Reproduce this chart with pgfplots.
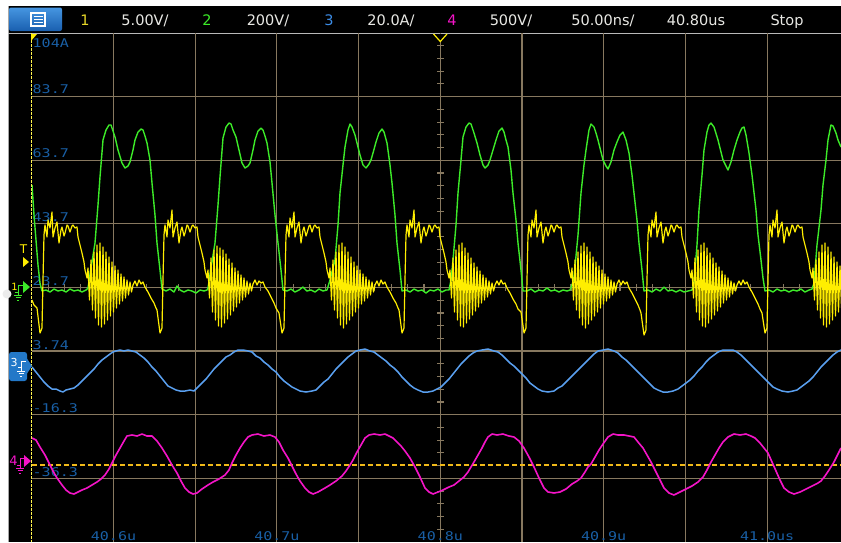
\documentclass[border=0pt]{standalone}
\usepackage{fontspec}
\setmainfont{DejaVu Sans}
\newfontfamily\scopemono[FakeStretch=1.25]{DejaVu Sans Mono}
\usepackage{pgfplots}
\pgfplotsset{compat=1.18}
\definecolor{gridtan}{RGB}{135,120,95}
\definecolor{lblblue}{RGB}{25,95,165}
\definecolor{chyellow}{RGB}{255,238,0}
\definecolor{hdryellow}{RGB}{230,215,40}
\definecolor{chgreen}{RGB}{60,235,40}
\definecolor{chblue}{RGB}{90,160,240}
\definecolor{hdrblue}{RGB}{60,140,230}
\definecolor{chmag}{RGB}{245,20,200}
\definecolor{trigor}{RGB}{240,185,25}
\definecolor{btnlight}{RGB}{70,150,225}
\definecolor{btndark}{RGB}{25,95,175}
\definecolor{boxblue}{RGB}{35,120,200}
\definecolor{hdrtext}{RGB}{232,232,228}
\begin{document}
\begin{tikzpicture}
\begin{scope}[x=1pt,y=-1pt]
\fill[white] (0,0) rectangle (841,542);
\fill[black] (8,6) rectangle (841,542);
\draw[gray!70, line width=0.8pt] (8,6) -- (8,542);
% header
\shade[top color=btnlight, bottom color=btndark, rounded corners=2pt] (9,7.5) rectangle (62,31);
\draw[white, line width=1.1pt] (31,13) rectangle (45,26);
\foreach \yy in {16.5,19.5,22.5} \draw[white, line width=0.9pt] (33.5,\yy) -- (42.5,\yy);
\begin{scope}[every node/.style={anchor=base, inner sep=0pt, font=\fontsize{14.5}{15}\selectfont}]
\node[text=hdryellow] at (85,25) {1};
\node[text=hdrtext] at (145,25) {5.00V/};
\node[text=chgreen] at (207,25) {2};
\node[text=hdrtext] at (268,25) {200V/};
\node[text=hdrblue] at (329,25) {3};
\node[text=hdrtext] at (391,25) {20.0A/};
\node[text=chmag] at (452,25) {4};
\node[text=hdrtext] at (511,25) {500V/};
\node[text=hdrtext] at (603,25) {50.00ns/};
\node[text=hdrtext] at (696,25) {40.80us};
\node[text=hdrtext] at (787,25) {Stop};
\end{scope}
\draw[gray!55, line width=1pt] (8,33) -- (841,33);
% center minor ticks
\foreach \k in {1,...,39} \draw[gridtan, line width=1.1pt] (437,{33+12.725*\k}) -- (443.6,{33+12.725*\k});
\foreach \k in {1,...,49} \draw[gridtan, line width=1.1pt] ({31.8+16.34*\k},284.2) -- ({31.8+16.34*\k},290.6);
\end{scope}

\begin{axis}[at={(31.8pt,-542pt)}, anchor=south west, scale only axis,
  width=809.2pt, height=509pt,
  xmin=31.8, xmax=841, ymin=33, ymax=542, y dir=reverse,
  axis line style={draw=none},
  xtick={113.5,195.2,276.9,358.6,440.3,522,603.7,685.4,767.1},
  ytick={96.6,160.2,223.8,287.4,351,414.6,478.2},
  xticklabels={}, yticklabels={}, scaled ticks=false, major tick length=0pt,
  grid=major, major grid style={draw=gridtan, line width=1.1pt},
  clip=true]
% channel 3 scale labels
\begin{scope}[every node/.style={anchor=base west, inner sep=0pt, text=lblblue, font=\scopemono\fontsize{12}{12}\selectfont}]
\node at (axis cs:32.5,47) {104A};
\node at (axis cs:32.5,93) {83.7};
\node at (axis cs:32.5,157) {63.7};
\node at (axis cs:32.5,221) {43.7};
\node at (axis cs:32.5,285) {23.7};
\node at (axis cs:32.5,349) {3.74};
\node at (axis cs:32.5,412) {-16.3};
\node at (axis cs:32.5,476) {-36.3};
\end{scope}
\begin{scope}[every node/.style={anchor=base, inner sep=0pt, text=lblblue, font=\scopemono\fontsize{12}{12}\selectfont}]
\node at (axis cs:113.5,540) {40.6u};
\node at (axis cs:276.9,540) {40.7u};
\node at (axis cs:440.3,540) {40.8u};
\node at (axis cs:603.7,540) {40.9u};
\node at (axis cs:767.1,540) {41.0us};
\end{scope}
\draw[trigor, line width=1.5pt, dash pattern=on 5pt off 3pt] (axis cs:31.8,465) -- (axis cs:841,465);

% channel 2 (green)
\addplot[chgreen, line width=1.4pt, line join=round] coordinates {
(32,185) (34,215) (36,240) (38,265) (40,283) (42,291) (46,290) (50,292) (54,289) (58,291) (62,290) (66,292) (70,289) (74,291) (78,290) (82,292) (86,290)
(88,288) (91,268) (95,243) (98,205) (100,177) (103,140) (106,130) (109,125) (111,125) (113,131) (115,137) (118,150) (122,163) (125,168) (128,166) (130,162) (133,150) (135,140) (138,132) (141,129) (143,130) (145,136) (147,143) (150,160) (152,183) (155,215) (157,243) (160,270) (162,289)
(166,291) (170,289) (174,292) (177,286) (180,290) (184,292) (188,290) (192,291) (196,293) (200,290) (204,291) (207,290)
(208,288) (211,268) (215,243) (218,205) (220,177) (223,138) (226,127) (229,123) (231,124) (233,130) (236,137) (239,150) (242,163) (245,168) (248,166) (250,163) (253,150) (255,140) (258,131) (261,128) (263,130) (265,136) (267,143) (270,162) (272,183) (275,215) (278,243) (281,270) (283,290)
(287,291) (291,289) (295,292) (299,290) (303,287) (307,291) (311,290) (315,292) (319,289) (323,291) (327,290)
(330,280) (335,260) (338,225) (340,193) (343,165) (345,147) (348,130) (350,124) (352,127) (355,135) (357,143) (360,155) (363,165) (366,168) (369,164) (371,160) (373,153) (376,142) (379,133) (382,129) (384,132) (387,143) (390,165) (392,183) (395,215) (397,243) (400,270) (402,291)
(406,290) (410,292) (414,289) (418,291) (422,290) (426,293) (430,290) (434,291) (438,289) (442,292) (446,290) (449,290)
(451,280) (453,260) (456,225) (458,193) (461,160) (463,137) (466,127) (469,123) (471,124) (474,133) (477,143) (480,155) (483,165) (485,168) (488,165) (490,160) (493,150) (496,140) (499,131) (502,128) (504,132) (506,140) (508,147) (511,170) (513,193) (516,220) (518,243) (521,270) (523,291)
(527,291) (531,289) (535,292) (539,290) (543,291) (547,288) (551,291) (555,290) (559,292) (563,290) (567,291) (570,290)
(572,285) (574,277) (578,235) (581,193) (584,165) (586,150) (589,130) (591,124) (594,127) (596,133) (598,140) (601,152) (603,160) (606,166) (608,169) (611,162) (614,150) (617,142) (620,135) (623,132) (626,140) (629,153) (632,175) (634,193) (637,220) (639,243) (642,270) (644,291)
(648,290) (652,292) (656,289) (660,291) (664,287) (668,291) (672,290) (676,292) (680,290) (684,292) (688,291) (692,290)
(694,283) (697,245) (699,210) (702,175) (704,150) (707,132) (709,125) (711,123) (714,127) (718,140) (721,152) (723,160) (726,166) (728,170) (731,162) (734,150) (737,140) (740,132) (742,128) (744,127) (746,135) (749,153) (752,175) (756,210) (758,235) (761,260) (763,278) (765,291)
(769,290) (773,292) (777,289) (781,291) (785,290) (789,292) (793,290) (797,291) (801,289) (805,292) (809,290) (812,289)
(814,283) (817,245) (821,210) (823,185) (826,160) (828,140) (831,125) (833,126) (836,133) (838,140) (841,147)
};

% channel 1 (yellow)
\addplot[chyellow, line width=1.2pt, line join=round] coordinates {
(32,300) (34,305) (37,308) (40,333) (42,328) (43,280) (44,235) (45,225) (47,237) (48,220) (50,228) (52,212) (53,237) (55,228) (57,222) (59,243) (61,230) (62,227) (64,236) (65,233) (67,225) (68,226) (70,232) (72,226) (73,225) (75,228) (77,227) (78,237) (80,245) (82,253) (84,262) (85,270) (87,278)
(88,268) (89.5,300) (91,260) (92.5,310) (94,252) (95.5,318) (97,245) (98.5,325) (100,243) (101.5,327) (103,247) (104.5,324) (106,252) (107.5,320) (109,257) (110.5,316) (112,262) (113.5,312) (115,266) (116.5,308) (118,270) (119.5,304) (121,274) (122.5,301) (124,277) (125.5,298) (127,280) (128.5,295) (130,282) (131.5,292)
(133,285) (135,281) (137,286) (139,280) (141,284) (143,282) (145,287) (148,292) (151,298) (154,303) (156,308)
(157,310) (160,333) (162,328) (163,280) (164,235) (165,225) (167,237) (168,220) (170,228) (172,210) (173,237) (175,228) (177,222) (179,243) (181,230) (182,227) (184,236) (185,233) (187,225) (188,226) (190,232) (192,226) (193,225) (195,228) (197,227) (198,237) (200,245) (202,253) (204,262) (205,270) (207,278)
(208,270) (209.5,298) (211,258) (212.5,312) (214,250) (215.5,320) (217,246) (218.5,326) (220,248) (221.5,327) (223,250) (224.5,323) (226,254) (227.5,319) (229,259) (230.5,315) (232,263) (233.5,311) (235,268) (236.5,307) (238,271) (239.5,303) (241,275) (242.5,300) (244,278) (245.5,297) (247,281) (248.5,294) (250,283) (251.5,291)
(253,284) (255,280) (257,285) (259,281) (261,283) (263,282) (265,287) (268,291) (271,297) (274,303) (276,308)
(279,313) (282,333) (284,328) (285,280) (286,235) (287,225) (289,237) (290,218) (292,228) (294,212) (295,237) (297,228) (299,222) (301,243) (303,230) (304,227) (306,236) (307,233) (309,226) (310,225) (312,232) (314,226) (315,225) (317,228) (319,227) (320,237) (322,245) (324,253) (326,262) (327,270) (329,278)
(330,268) (331.5,300) (333,260) (334.5,310) (336,252) (337.5,318) (339,245) (340.5,325) (342,243) (343.5,328) (345,247) (346.5,324) (348,252) (349.5,320) (351,257) (352.5,316) (354,262) (355.5,312) (357,266) (358.5,308) (360,270) (361.5,304) (363,274) (364.5,301) (366,277) (367.5,298) (369,280) (370.5,295) (372,282) (373.5,292)
(375,285) (377,281) (379,286) (381,280) (383,284) (385,282) (387,287) (390,292) (393,298) (396,303) (398,308)
(399,310) (402,333) (404,328) (405,280) (406,235) (407,225) (409,237) (410,220) (412,228) (414,210) (415,237) (417,228) (419,222) (421,243) (423,230) (424,227) (426,236) (427,233) (429,225) (430,226) (432,232) (434,226) (435,225) (437,228) (439,227) (440,237) (442,245) (444,253) (446,262) (447,270) (449,278)
(450,270) (451.5,298) (453,258) (454.5,312) (456,250) (457.5,320) (459,245) (460.5,326) (462,243) (463.5,327) (465,248) (466.5,323) (468,253) (469.5,319) (471,258) (472.5,315) (474,263) (475.5,311) (477,267) (478.5,307) (480,271) (481.5,303) (483,275) (484.5,300) (486,278) (487.5,297) (489,281) (490.5,294) (492,283) (493.5,291)
(495,285) (497,281) (499,285) (501,280) (503,284) (505,283) (507,288) (510,293) (513,299) (516,304) (518,309)
(521,312) (524,333) (526,328) (527,280) (528,235) (529,225) (531,237) (532,220) (534,228) (536,210) (537,237) (539,228) (541,222) (543,243) (545,230) (546,227) (548,236) (549,233) (551,225) (552,226) (554,232) (556,226) (557,225) (559,228) (561,227) (562,237) (564,245) (566,253) (568,262) (569,270) (571,278)
(572,268) (573.5,300) (575,260) (576.5,310) (578,252) (579.5,318) (581,246) (582.5,325) (584,243) (585.5,328) (587,247) (588.5,324) (590,252) (591.5,320) (593,257) (594.5,316) (596,262) (597.5,312) (599,266) (600.5,308) (602,270) (603.5,304) (605,274) (606.5,301) (608,277) (609.5,298) (611,280) (612.5,295) (614,282) (615.5,292)
(617,284) (619,280) (621,285) (623,281) (625,284) (627,282) (629,288) (632,293) (635,299) (638,305) (640,310)
(641,313) (644,335) (646,330) (647,280) (648,235) (649,225) (651,237) (652,220) (654,228) (656,212) (657,237) (659,228) (661,222) (663,243) (665,230) (666,227) (668,236) (669,233) (671,225) (672,226) (674,232) (676,226) (677,225) (679,228) (681,227) (682,237) (684,245) (686,253) (688,262) (689,270) (691,278)
(692,270) (693.5,298) (695,258) (696.5,312) (698,250) (699.5,320) (701,245) (702.5,326) (704,243) (705.5,327) (707,248) (708.5,323) (710,253) (711.5,319) (713,258) (714.5,315) (716,263) (717.5,311) (719,267) (720.5,307) (722,271) (723.5,303) (725,275) (726.5,300) (728,278) (729.5,297) (731,281) (732.5,294) (734,283) (735.5,291)
(737,285) (739,281) (741,285) (743,280) (745,284) (747,282) (749,287) (752,292) (755,298) (758,304) (760,309)
(762,313) (765,333) (767,328) (768,280) (769,235) (770,225) (772,237) (773,220) (775,228) (777,210) (778,237) (780,228) (782,222) (784,243) (786,230) (787,227) (789,236) (790,233) (792,225) (793,226) (795,232) (797,226) (798,225) (800,228) (802,227) (803,237) (805,245) (807,253) (809,262) (810,270) (812,278)
(813,268) (814.5,300) (816,260) (817.5,310) (819,252) (820.5,318) (822,245) (823.5,325) (825,243) (826.5,327) (828,247) (829.5,324) (831,252) (832.5,320) (834,257) (835.5,316) (837,262) (838.5,312) (840,266) (841.5,308)
};

% channel 3 (blue)
\addplot[chblue, line width=1.5pt, line join=round] coordinates {
(32,367) (36,372) (40,377) (44,382) (48,386) (52,389) (56,389) (60,391) (63,392) (66,390) (70,389) (74,388) (78,385) (82,381) (86,377) (90,373) (94,369) (98,364) (102,360) (106,357) (110,354) (113,352) (116,351) (120,350) (124,351) (128,350) (132,351) (136,352) (140,355) (144,358) (148,362) (152,367) (156,371) (160,376) (164,381) (168,386) (172,388) (176,390) (180,391) (185,391) (190,390) (194,391) (198,387) (202,383) (206,379) (210,374) (214,369) (218,365) (222,361) (226,357) (230,355) (234,352) (238,350) (243,350) (248,351) (252,352) (256,356) (260,358) (264,362) (268,365) (272,369) (276,372) (280,377) (284,381) (288,384) (292,387) (296,389) (300,391) (306,392) (312,391) (316,390) (320,386) (324,382) (328,379) (332,374) (336,369) (340,365) (344,361) (348,357) (352,354) (356,351) (360,350) (365,349) (370,351) (374,352) (378,355) (382,358) (386,361) (390,365) (394,368) (398,372) (402,377) (406,381) (410,385) (414,388) (418,390) (423,392) (428,392) (433,391) (437,389) (441,387) (445,383) (449,379) (453,374) (457,369) (461,364) (465,360) (469,356) (473,353) (477,351) (482,350) (488,349) (494,351) (498,352) (502,355) (506,359) (510,363) (514,366) (518,370) (522,374) (526,378) (530,383) (534,386) (538,389) (542,391) (548,392) (554,391) (558,388) (562,386) (566,382) (570,378) (574,374) (578,370) (582,366) (586,362) (590,358) (594,354) (598,351) (603,350) (608,349) (614,351) (618,353) (622,357) (626,360) (630,364) (634,368) (638,372) (642,376) (646,380) (650,384) (654,388) (658,390) (663,392) (668,392) (673,391) (678,389) (682,386) (686,383) (690,380) (694,376) (698,371) (702,367) (706,362) (710,358) (714,355) (718,352) (723,350) (728,350) (733,350) (737,352) (741,355) (745,359) (749,363) (753,367) (757,371) (761,375) (765,379) (769,383) (773,387) (777,389) (782,391) (788,392) (793,391) (797,390) (801,387) (805,384) (809,381) (813,377) (817,372) (821,367) (825,363) (829,359) (833,355) (837,352) (841,350)
};

% channel 4 (magenta)
\addplot[chmag, line width=1.6pt, line join=round] coordinates {
(32,438) (36,440) (40,447) (45,455) (49,463) (53,471) (57,478) (62,485) (66,490) (70,493) (74,494) (78,492) (82,490) (87,488) (92,485) (97,482) (101,479) (105,475) (109,469) (112,463) (116,455) (120,448) (124,441) (127,436) (132,435) (137,436) (142,434) (147,436) (152,436) (157,441) (162,448) (167,456) (172,465) (177,473) (181,481) (185,488) (189,492) (193,494) (197,493) (202,489) (208,485) (213,482) (219,479) (225,475) (229,470) (232,463) (236,455) (240,448) (244,442) (248,437) (252,435) (258,434) (264,436) (270,435) (275,437) (279,442) (283,450) (288,458) (292,466) (296,474) (300,481) (305,488) (309,492) (313,494) (318,492) (325,488) (330,485) (336,481) (342,476) (346,471) (350,465) (353,460) (357,452) (361,445) (365,438) (369,435) (374,434) (380,435) (385,434) (389,436) (393,438) (397,442) (401,446) (405,451) (410,458) (415,467) (420,477) (425,488) (429,492) (433,494) (438,492) (443,490) (449,487) (454,485) (459,481) (464,477) (468,472) (471,467) (474,462) (478,455) (482,448) (485,442) (488,437) (492,434) (497,435) (503,434) (509,436) (514,437) (519,441) (524,448) (529,457) (534,467) (539,478) (544,488) (548,492) (554,493) (560,492) (566,489) (572,484) (577,481) (581,478) (585,472) (588,467) (591,464) (595,457) (599,450) (603,444) (608,437) (613,434) (618,435) (624,435) (629,436) (634,437) (638,442) (643,448) (647,455) (651,462) (655,470) (660,480) (664,488) (669,493) (674,495) (680,492) (686,489) (692,486) (698,482) (703,477) (707,470) (711,462) (715,455) (719,448) (723,442) (728,437) (734,434) (740,435) (746,434) (751,436) (755,438) (760,443) (764,448) (768,453) (772,462) (776,471) (780,480) (784,488) (789,492) (794,494) (800,492) (806,489) (812,486) (818,483) (821,481) (825,476) (829,470) (834,462) (838,454) (841,448)
};
\end{axis}

\begin{scope}[x=1pt,y=-1pt]
% left edge dashed line
\draw[chyellow!70!white, line width=1.4pt] (31.5,33) -- (31.5,542);
\draw[black, line width=1.4pt, dash pattern=on 1pt off 3pt] (31.5,35) -- (31.5,542);
\fill[chyellow] (31,34) -- (37,34) -- (31,41) -- cycle;
% trigger position marker
\draw[chyellow, line width=1.2pt, fill=black] (433.5,34) -- (440.3,41.5) -- (447,34);
% trigger level marker
\node[text=chyellow, anchor=base, inner sep=0pt, font=\fontsize{12}{12}\selectfont] at (23.5,253) {T};
\fill[chyellow] (23,257) -- (29,262) -- (23,267) -- cycle;
% channel 1/2 ground markers
\fill[gray!15] (7,294) circle (4.5);
\node[text=chyellow, anchor=base, inner sep=0pt, font=\fontsize{10}{10}\selectfont] at (14.5,290) {1};
\draw[chgreen, line width=1pt] (15,292) -- (18,292) -- (18,285) -- (23,285);
\fill[chgreen] (23,281) -- (30,287) -- (23,293) -- cycle;
\draw[chgreen, line width=0.9pt] (18,292) -- (18,295) (14,295) -- (22,295) (15.5,297.5) -- (20.5,297.5) (17,300) -- (19,300);
% channel 3 marker
\fill[boxblue, rounded corners=2.5pt] (9,352) rectangle (27,381);
\fill[boxblue] (26,357) -- (32,366) -- (26,375) -- cycle;
\node[text=white, anchor=base, inner sep=0pt, font=\fontsize{11}{11}\selectfont] at (14,366) {3};
\draw[white, line width=0.9pt] (18,367) -- (21,367) -- (21,361) -- (26,361);
\draw[white, line width=0.8pt] (21,367) -- (21,371) (17,371) -- (25,371) (18.5,373.5) -- (23.5,373.5) (20,376) -- (22,376);
% channel 4 marker
\node[text=chmag, anchor=base, inner sep=0pt, font=\fontsize{13}{13}\selectfont] at (13.5,465) {4};
\draw[chmag, line width=1pt] (17,465) -- (20,465) -- (20,458) -- (24,458);
\fill[chmag] (24,455) -- (31,461) -- (24,467) -- cycle;
\draw[chmag, line width=0.9pt] (20,465) -- (20,468) (16,468) -- (24,468) (17.5,470.5) -- (22.5,470.5) (19,473) -- (21,473);
\end{scope}
\pgfresetboundingbox
\path[use as bounding box] (0pt,0pt) rectangle (841pt,-542pt);
\end{tikzpicture}
\end{document}
